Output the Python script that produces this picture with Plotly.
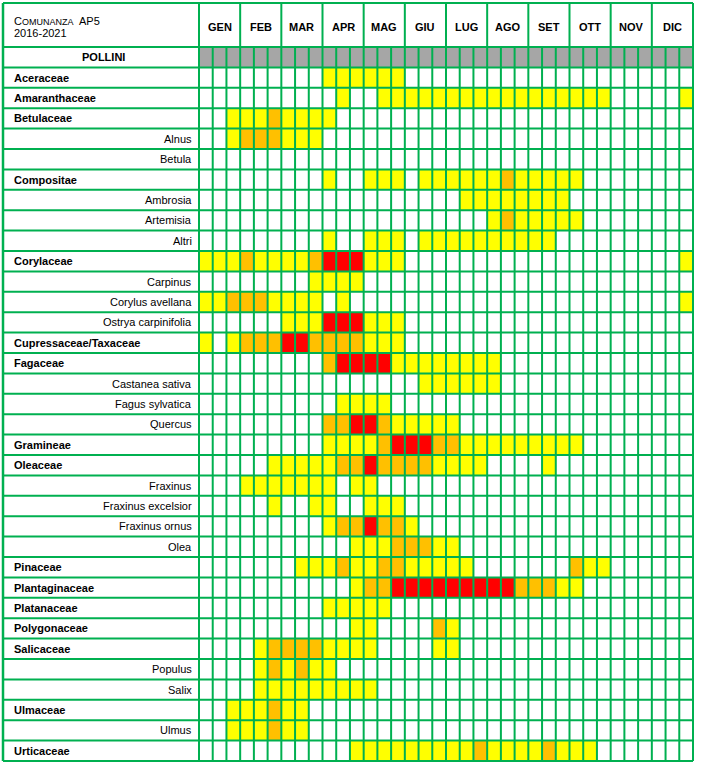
import plotly.graph_objects as go

# ---------------- data ----------------
months = ["GEN", "FEB", "MAR", "APR", "MAG", "GIU", "LUG", "AGO", "SET", "OTT", "NOV", "DIC"]
periods_per_month = 3  # ten-day periods

taxa = ["Aceraceae", "Amaranthaceae", "Betulaceae", "Alnus", "Betula", "Compositae",
        "Ambrosia", "Artemisia", "Altri", "Corylaceae", "Carpinus", "Corylus avellana",
        "Ostrya carpinifolia", "Cupressaceae/Taxaceae", "Fagaceae", "Castanea sativa",
        "Fagus sylvatica", "Quercus", "Gramineae", "Oleaceae", "Fraxinus",
        "Fraxinus excelsior", "Fraxinus ornus", "Olea", "Pinaceae", "Plantaginaceae",
        "Platanaceae", "Polygonaceae", "Salicaceae", "Populus", "Salix", "Ulmaceae",
        "Ulmus", "Urticaceae"]

is_family = [True, True, True, False, False, True, False, False, False, True, False, False,
             False, True, True, False, False, False, True, True, False, False, False, False,
             True, True, True, True, True, False, False, True, False, True]

# concentration level runs: (first period, last period, level)  1=low 2=medium 3=high
runs = [
    [(9, 14, 1)],
    [(10, 10, 1), (13, 29, 1), (35, 35, 1)],
    [(2, 4, 1), (5, 5, 2), (6, 9, 1)],
    [(2, 2, 1), (3, 5, 2), (6, 8, 1)],
    [],
    [(9, 9, 1), (12, 14, 1), (16, 21, 1), (22, 22, 2), (23, 27, 1)],
    [(19, 26, 1)],
    [(21, 21, 1), (22, 22, 2), (23, 27, 1)],
    [(9, 9, 1), (12, 14, 1), (16, 25, 1)],
    [(0, 2, 1), (3, 3, 2), (4, 7, 1), (8, 8, 2), (9, 11, 3), (12, 14, 1), (35, 35, 1)],
    [(8, 11, 1)],
    [(0, 1, 1), (2, 4, 2), (5, 8, 1), (10, 10, 1), (35, 35, 1)],
    [(6, 8, 1), (9, 11, 3), (12, 14, 1)],
    [(0, 0, 1), (2, 2, 1), (3, 5, 2), (6, 7, 3), (8, 11, 2), (12, 14, 1)],
    [(9, 9, 2), (10, 13, 3), (14, 21, 1)],
    [(16, 21, 1)],
    [(10, 13, 1)],
    [(9, 10, 2), (11, 12, 3), (13, 13, 2), (14, 18, 1)],
    [(9, 12, 1), (13, 13, 2), (14, 16, 3), (17, 18, 2), (19, 27, 1)],
    [(5, 9, 1), (10, 11, 2), (12, 12, 3), (13, 16, 2), (17, 20, 1), (25, 25, 1)],
    [(3, 9, 1), (11, 12, 1)],
    [(5, 5, 1), (8, 9, 1), (12, 14, 1)],
    [(9, 9, 1), (10, 11, 2), (12, 12, 3), (13, 14, 2), (15, 15, 1)],
    [(11, 13, 1), (14, 16, 2), (17, 18, 1)],
    [(7, 9, 1), (10, 10, 2), (11, 12, 1), (13, 14, 2), (15, 19, 1), (27, 27, 2), (28, 29, 1)],
    [(11, 11, 1), (12, 13, 2), (14, 22, 3), (23, 25, 2), (26, 27, 1)],
    [(9, 13, 1)],
    [(11, 12, 1), (17, 17, 2), (18, 18, 1)],
    [(4, 4, 1), (5, 8, 2), (9, 12, 1), (17, 18, 1)],
    [(4, 4, 1), (5, 5, 2), (6, 6, 1), (7, 7, 2), (8, 9, 1)],
    [(4, 12, 1)],
    [(2, 4, 1), (5, 5, 2), (6, 7, 1)],
    [(2, 4, 1), (5, 5, 2), (6, 7, 1)],
    [(11, 19, 1), (20, 20, 2), (21, 24, 1), (25, 25, 2), (26, 28, 1)],
]

title_line1 = "C<span style='font-size:9px'>OMUNANZA</span>  AP5"
title_line2 = "2016-2021"
header_label = "POLLINI"

# ---------------- build ----------------
n_per = len(months) * periods_per_month
HEADER_LEVEL = 4
z = [[HEADER_LEVEL] * n_per]
for r in runs:
    row = [0] * n_per
    for a, b, lv in r:
        for k in range(a, b + 1):
            row[k] = lv
    z.append(row)

W, H = 701, 767
CW = 494 / n_per          # px per period
RH = 714 / (len(taxa) + 1)  # px per row
x0 = -0.5 - 199 / CW
x1 = x0 + W / CW
ytop = -1.5 - 47 / RH
ybot = ytop + H / RH


def xpx(p):
    return x0 + p / CW


def ypx(p):
    return ytop + p / RH


GREEN = "#00B050"
FONT = "Liberation Sans, Arial, sans-serif"

fig = go.Figure(go.Heatmap(
    z=z, x=list(range(n_per)), y=list(range(-1, len(taxa))),
    zmin=0, zmax=4,
    colorscale=[[0, "#FFFFFF"], [0.25, "#FFFF00"], [0.5, "#FFC000"], [0.75, "#FF0000"], [1, "#A6A6A6"]],
    showscale=False, hoverinfo="skip"))

shapes = []
y_head_top = ypx(3)
y_grid_top = -1.5
y_bottom = len(taxa) - 0.5
x_left = xpx(3)
x_right = n_per - 0.5
lw = 2

# vertical lines
for n in range(n_per + 1):
    xv = n - 0.5
    top = y_head_top if n % periods_per_month == 0 else y_grid_top
    shapes.append(dict(type="line", x0=xv, x1=xv, y0=top, y1=y_bottom,
                       line=dict(color=GREEN, width=lw)))
shapes.append(dict(type="line", x0=x_left, x1=x_left, y0=y_head_top, y1=y_bottom,
                   line=dict(color=GREEN, width=lw + 0.5)))
# horizontal lines
hys = [y_head_top] + [y_grid_top + i for i in range(len(taxa) + 2)]
for yv in hys:
    shapes.append(dict(type="line", x0=x_left, x1=x_right, y0=yv, y1=yv,
                       line=dict(color=GREEN, width=lw)))

ann = []
ann.append(dict(x=xpx(12), y=ypx(21), text=title_line1, xanchor="left", yanchor="middle",
                showarrow=False, font=dict(family=FONT, size=11, color="black")))
ann.append(dict(x=xpx(12), y=ypx(33), text=title_line2, xanchor="left", yanchor="middle",
                showarrow=False, font=dict(family=FONT, size=11, color="black")))
for m, name in enumerate(months):
    ann.append(dict(x=m * periods_per_month + (periods_per_month - 1) / 2, y=ypx(27),
                    text="<b>" + name + "</b>", showarrow=False, xanchor="center", yanchor="middle",
                    font=dict(family=FONT, size=11, color="black")))
ann.append(dict(x=xpx(103), y=-1, text="<b>" + header_label + "</b>", showarrow=False,
                xanchor="center", yanchor="middle", font=dict(family=FONT, size=11, color="black")))
for i, (t, fam) in enumerate(zip(taxa, is_family)):
    if fam:
        ann.append(dict(x=xpx(12), y=i, text="<b>" + t + "</b>", xanchor="left", yanchor="middle",
                        showarrow=False, font=dict(family=FONT, size=11, color="black")))
    else:
        ann.append(dict(x=xpx(194), y=i, text=t, xanchor="right", yanchor="middle",
                        showarrow=False, font=dict(family=FONT, size=11, color="black")))

fig.update_layout(
    width=W, height=H, margin=dict(l=0, r=0, t=0, b=0, pad=0),
    paper_bgcolor="white", plot_bgcolor="white",
    xaxis=dict(range=[x0, x1], visible=False, fixedrange=True),
    yaxis=dict(range=[ybot, ytop], visible=False, fixedrange=True),
    shapes=shapes, annotations=ann, showlegend=False)

fig.write_html("out.html", config={"displayModeBar": False})
